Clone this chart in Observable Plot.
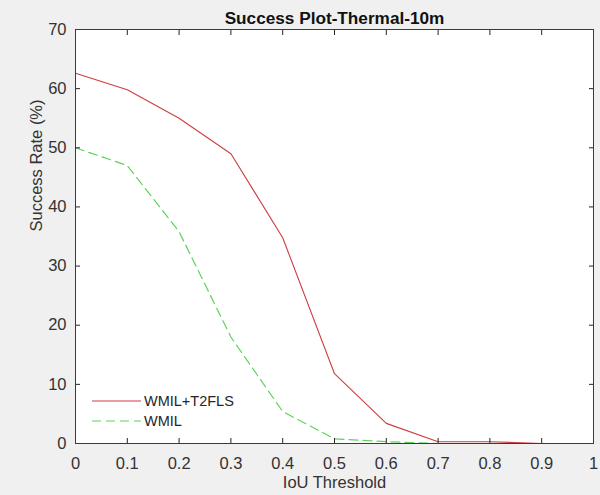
<!DOCTYPE html>
<html>
<head>
<meta charset="utf-8">
<script src="https://cdn.jsdelivr.net/npm/d3@7"></script>
<script src="https://cdn.jsdelivr.net/npm/@observablehq/plot@0.6"></script>
<style>
  html, body { margin: 0; padding: 0; background: #f0f0f0; }
  #wrap { position: relative; width: 600px; height: 495px; overflow: hidden; }
  #legend { position: absolute; left: 91px; top: 391px; font-family: "Liberation Sans", Arial, sans-serif; font-size: 14.5px; color: #262626; }
  #legend div { display: flex; align-items: center; height: 20px; }
  #legend svg { margin-right: 3px; }
</style>
</head>
<body>
<div id="wrap"></div>
<script>
const thresholds = [0, 0.1, 0.2, 0.3, 0.4, 0.5, 0.6, 0.7, 0.8, 0.9, 1.0];
const wmilT2fls = [62.6, 59.8, 55.0, 49.0, 34.8, 11.8, 3.4, 0.3, 0.3, 0.0, 0.0];
const wmil = [50.0, 47.0, 35.8, 18.0, 5.4, 0.8, 0.3, 0.0, 0.0, 0.0, 0.0];
const seriesNames = ["WMIL+T2FLS", "WMIL"];
const xTicks = [0, 0.1, 0.2, 0.3, 0.4, 0.5, 0.6, 0.7, 0.8, 0.9, 1];
const yTicks = [0, 10, 20, 30, 40, 50, 60, 70];
const titleText = "Success Plot-Thermal-10m";
const xLabel = "IoU Threshold";
const yLabel = "Success Rate (%)";

const colors = {"WMIL+T2FLS": "#d03c40", "WMIL": "#5ed25e"};
const dashes = {"WMIL+T2FLS": null, "WMIL": "9,5"};

const rows = [];
thresholds.forEach((t, i) => {
  rows.push({x: t, y: wmilT2fls[i], s: seriesNames[0]});
  rows.push({x: t, y: wmil[i], s: seriesNames[1]});
});

const ink = "#333";
const W = 600, H = 495, mt = 29, mr = 7, mb = 52, ml = 75;
const fs = 16.5;
const chart = Plot.plot({
  width: W,
  height: H,
  marginTop: mt,
  marginRight: mr,
  marginBottom: mb,
  marginLeft: ml,
  style: {background: "transparent", fontFamily: "Liberation Sans, Arial, sans-serif", fontSize: fs + "px", color: ink},
  x: {domain: [0, 1]},
  y: {domain: [0, 70]},
  marks: [
    Plot.frame({fill: "white", stroke: null}),
    Plot.line(rows.filter(d => d.s === seriesNames[1]), {x: "x", y: "y", stroke: colors[seriesNames[1]], strokeWidth: 1.2, strokeDasharray: dashes[seriesNames[1]]}),
    Plot.line(rows.filter(d => d.s === seriesNames[0]), {x: "x", y: "y", stroke: colors[seriesNames[0]], strokeWidth: 1.1}),
    // inward ticks on all four sides (drawn outward by the axis, then shifted inside the frame)
    Plot.axisX(xTicks, {anchor: "bottom", tickSize: 5, dy: -5, fill: "none", stroke: "#222", label: null}),
    Plot.axisX(xTicks, {anchor: "top", tickSize: 5, dy: 5, fill: "none", stroke: "#222", label: null}),
    Plot.axisY(yTicks, {anchor: "left", tickSize: 5, dx: 5, fill: "none", stroke: "#222", label: null}),
    Plot.axisY(yTicks, {anchor: "right", tickSize: 5, dx: -5, fill: "none", stroke: "#222", label: null}),
    Plot.frame({stroke: "#3a3a3a", strokeWidth: 1}),
    Plot.axisX(xTicks, {anchor: "bottom", tickSize: 0, tickPadding: 14, label: null, fill: ink, fontSize: fs, tickFormat: d => String(d)}),
    Plot.axisY(yTicks, {anchor: "left", tickSize: 0, tickPadding: 9, label: null, fill: ink, fontSize: fs, tickFormat: d => String(d)}),
    Plot.text([titleText], {text: d => d, frameAnchor: "top", dy: -18, fontWeight: "bold", fill: "#111", fontSize: 17.2}),
    Plot.text([xLabel], {text: d => d, frameAnchor: "bottom", dy: 44, fill: ink, fontSize: fs}),
    Plot.text([yLabel], {text: d => d, frameAnchor: "left", dx: -39, dy: -5, rotate: -90, fill: ink, fontSize: fs})
  ]
});
const wrap = document.getElementById("wrap");
wrap.appendChild(chart);

const legend = document.createElement("div");
legend.id = "legend";
seriesNames.forEach(name => {
  const row = document.createElement("div");
  const dash = dashes[name] ? ` stroke-dasharray="${dashes[name]}"` : "";
  row.innerHTML = `<svg width="50" height="4"><line x1="1" y1="2" x2="50" y2="2" stroke="${colors[name]}" stroke-width="1.2"${dash}/></svg><span>${name}</span>`;
  legend.appendChild(row);
});
wrap.appendChild(legend);
</script>
</body>
</html>
